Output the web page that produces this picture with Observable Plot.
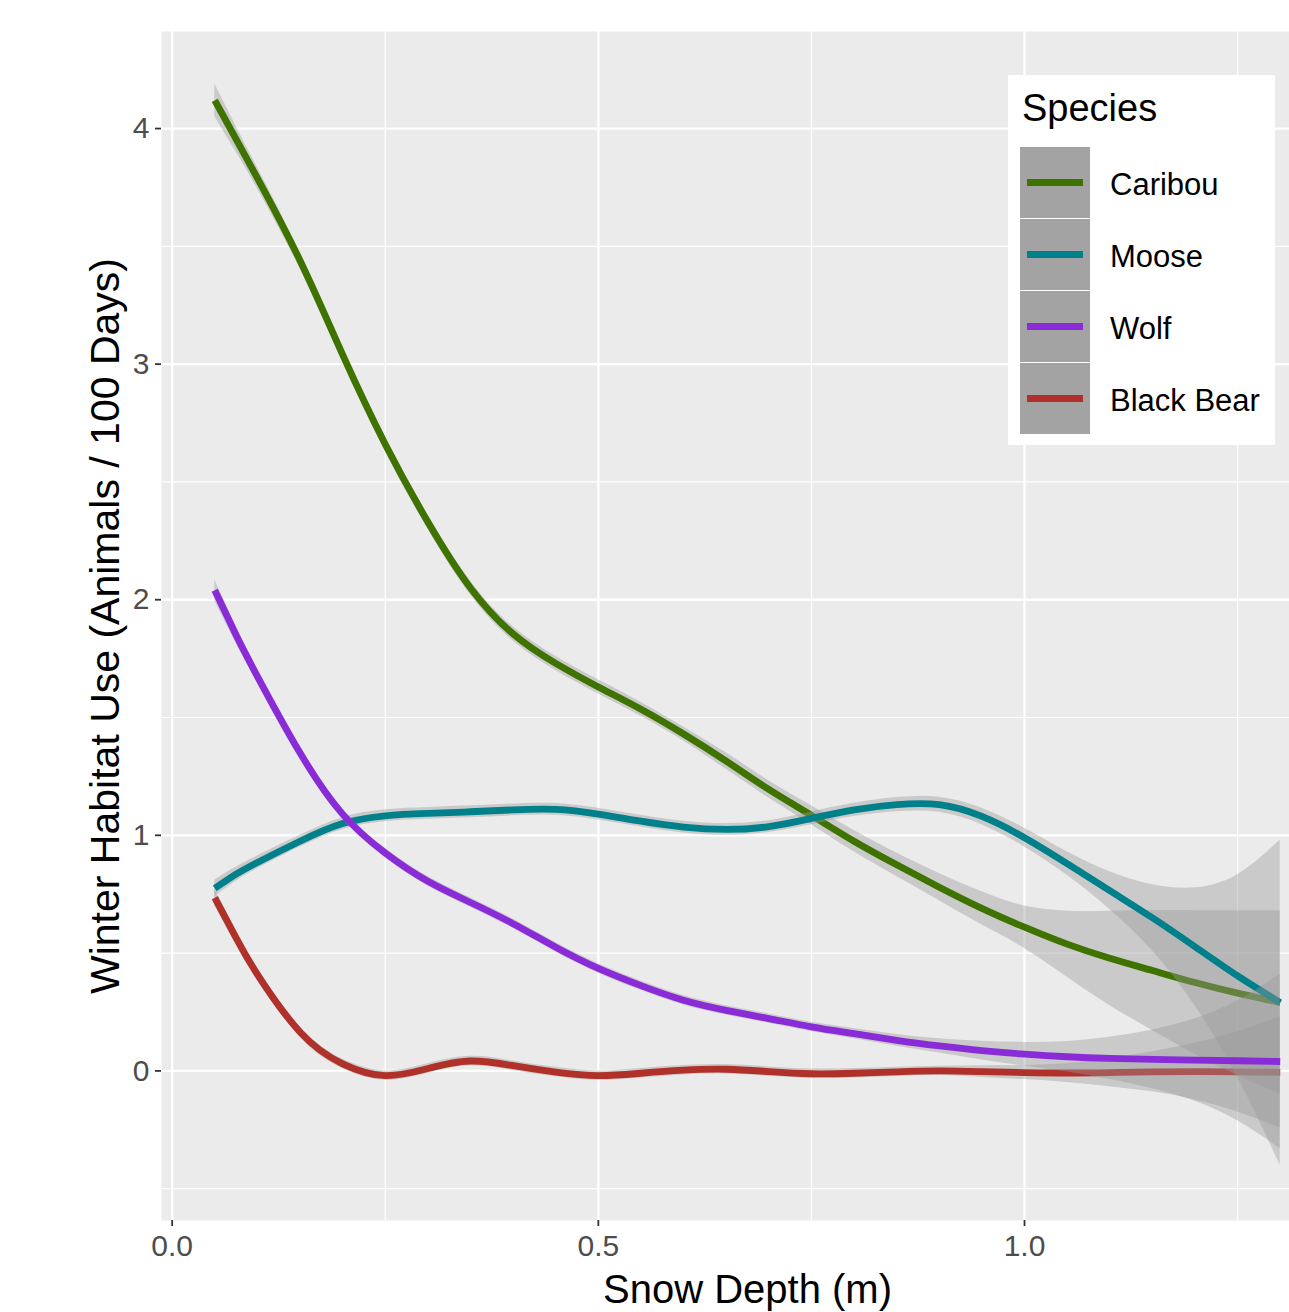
<!DOCTYPE html>
<html>
<head>
<meta charset="utf-8">
<script src="https://cdn.jsdelivr.net/npm/d3@7"></script>
<script src="https://cdn.jsdelivr.net/npm/@observablehq/plot@0.6"></script>
<style>
  body { margin: 0; background: #ffffff; overflow: hidden; font-family: "Liberation Sans", Arial, sans-serif; }
  #wrap { position: relative; width: 1289px; height: 1312px; overflow: hidden; }
  #chart svg { max-width: none !important; display: block; }
  #legend { position: absolute; left: 1008px; top: 75px; width: 267px; height: 370px; background: #ffffff; }
  #legend .title { position: absolute; left: 14px; top: 14px; font-size: 38px; color: #000; line-height: 1; }
  #legend .key { position: absolute; left: 12px; width: 70px; height: 71px; background: #A3A3A3; }
  #legend .key span { position: absolute; left: 7px; width: 56px; height: 7px; top: 32px; }
  #legend .lab { position: absolute; left: 102px; font-size: 31px; color: #000; line-height: 71px; height: 71px; }
  g[aria-label="x-axis label"] { font-size: 40px; fill: #000000; }
  g[aria-label="y-axis label"] { font-size: 41px; fill: #000000; }
</style>
</head>
<body>
<div id="wrap"><div id="chart"></div><div id="legend"></div></div>
<script>
// ---- data ----
const depth = [0.05,0.075,0.10,0.15,0.20,0.25,0.30,0.35,0.40,0.45,0.50,0.55,0.60,0.65,0.70,0.75,0.80,0.85,0.90,0.95,1.00,1.05,1.10,1.15,1.20,1.25,1.30];

const caribou   = [4.12,3.955,3.79,3.44,3.04,2.66,2.33,2.05,1.855,1.73,1.63,1.535,1.43,1.315,1.195,1.085,0.975,0.875,0.78,0.69,0.61,0.538,0.478,0.426,0.375,0.33,0.29];
const moose     = [0.775,0.835,0.885,0.975,1.05,1.083,1.093,1.10,1.108,1.11,1.09,1.06,1.035,1.025,1.037,1.072,1.108,1.13,1.13,1.08,0.99,0.88,0.765,0.65,0.527,0.403,0.29];
const wolf      = [2.04,1.85,1.675,1.35,1.09,0.925,0.805,0.715,0.625,0.525,0.435,0.362,0.30,0.257,0.222,0.187,0.158,0.13,0.106,0.086,0.071,0.06,0.053,0.049,0.046,0.043,0.04];
const blackBear = [0.735,0.565,0.41,0.165,0.03,-0.02,0.01,0.042,0.022,-0.005,-0.02,-0.01,0.003,0.007,-0.003,-0.012,-0.01,-0.004,0.0,-0.003,-0.007,-0.009,-0.007,-0.004,-0.003,-0.004,-0.006];

// confidence half-widths (standard-error band) read from the grey ribbons
const caribouSE   = [0.07,0.055,0.045,0.035,0.03,0.03,0.03,0.03,0.03,0.03,0.03,0.03,0.03,0.035,0.037,0.04,0.045,0.05,0.058,0.07,0.09,0.14,0.2,0.255,0.305,0.35,0.39];
const mooseSE     = [0.035,0.03,0.027,0.025,0.025,0.025,0.025,0.025,0.025,0.025,0.025,0.025,0.025,0.025,0.025,0.027,0.028,0.03,0.032,0.035,0.04,0.05,0.08,0.14,0.25,0.43,0.69];
const wolfSE      = [0.045,0.035,0.03,0.025,0.022,0.02,0.02,0.02,0.02,0.02,0.02,0.02,0.02,0.02,0.02,0.02,0.022,0.025,0.03,0.04,0.05,0.065,0.09,0.125,0.175,0.255,0.37];
const blackBearSE = [0.035,0.03,0.025,0.022,0.02,0.02,0.02,0.02,0.02,0.02,0.02,0.02,0.02,0.02,0.02,0.02,0.02,0.02,0.02,0.025,0.03,0.04,0.06,0.085,0.12,0.17,0.235];

const species     = ["Caribou", "Moose", "Wolf", "Black Bear"];       // legend order
const colors      = ["#3F7300", "#00808A", "#8A2BD8", "#B0302A"];
const drawOrder   = ["Black Bear", "Caribou", "Moose", "Wolf"];        // drawing order
const xTicks      = [0, 0.5, 1.0];
const xMinor      = [0.25, 0.75, 1.25];
const yTicks      = [0, 1, 2, 3, 4];
const yMinor      = [-0.5, 0.5, 1.5, 2.5, 3.5];
const xLabel      = "Snow Depth (m)";
const yLabel      = "Winter Habitat Use (Animals / 100 Days)";
const legendTitle = "Species";

// ---- build table ----
const seriesValues = {"Caribou": caribou, "Moose": moose, "Wolf": wolf, "Black Bear": blackBear};
const seriesSE = {"Caribou": caribouSE, "Moose": mooseSE, "Wolf": wolfSE, "Black Bear": blackBearSE};
const rows = [];
for (const s of species) {
  depth.forEach((d, i) => {
    const v = seriesValues[s][i], se = seriesSE[s][i];
    rows.push({species: s, depth: d, value: v, lo: v - se, hi: v + se});
  });
}
const colorOf = Object.fromEntries(species.map((s, i) => [s, colors[i]]));

const seriesMarks = [];
for (const s of drawOrder) {
  const data = rows.filter(r => r.species === s);
  seriesMarks.push(Plot.areaY(data, {x: "depth", y1: "lo", y2: "hi", fill: "#999999", fillOpacity: 0.4, curve: "natural"}));
  seriesMarks.push(Plot.line(data, {x: "depth", y: "value", stroke: colorOf[s], strokeWidth: 6.8, curve: "natural", strokeLinecap: "butt"}));
}

const chart = Plot.plot({
  width: 1333,
  height: 1312,
  marginLeft: 161,
  marginRight: 0,
  marginTop: 31,
  marginBottom: 92,
  style: {background: "transparent", fontFamily: "'Liberation Sans', Arial, sans-serif", maxWidth: "none"},
  x: {domain: [-0.0125, 1.3625]},
  y: {domain: [-0.635, 4.412]},
  marks: [
    Plot.frame({fill: "#EBEBEB", stroke: "none"}),
    Plot.gridX(xMinor, {stroke: "#ffffff", strokeOpacity: 1, strokeWidth: 1.2}),
    Plot.gridY(yMinor, {stroke: "#ffffff", strokeOpacity: 1, strokeWidth: 1.2}),
    Plot.gridX(xTicks, {stroke: "#ffffff", strokeOpacity: 1, strokeWidth: 2.3}),
    Plot.gridY(yTicks, {stroke: "#ffffff", strokeOpacity: 1, strokeWidth: 2.3}),
    ...seriesMarks,
    Plot.axisX(xTicks, {tickFormat: d3.format(".1f"), fontSize: 30, tickSize: 6, tickPadding: 8,
      stroke: "#333333", fill: "#4D4D4D", strokeWidth: 1.8,
      label: xLabel, labelAnchor: "center", labelOffset: 82, labelArrow: "none"}),
    Plot.axisY(yTicks, {tickFormat: d3.format("d"), fontSize: 30, tickSize: 6, tickPadding: 6,
      stroke: "#333333", fill: "#4D4D4D", strokeWidth: 1.8,
      label: yLabel, labelAnchor: "center", labelOffset: 72, labelArrow: "none"})
  ]
});
document.getElementById("chart").appendChild(chart);

// ---- legend ----
const legend = d3.select("#legend");
legend.append("div").attr("class", "title").text(legendTitle);
species.forEach((s, i) => {
  const top = 72 + i * 72;
  const key = legend.append("div").attr("class", "key").style("top", top + "px");
  key.append("span").style("background", colors[i]);
  legend.append("div").attr("class", "lab").style("top", (top + 2) + "px").text(s);
});
</script>
</body>
</html>
